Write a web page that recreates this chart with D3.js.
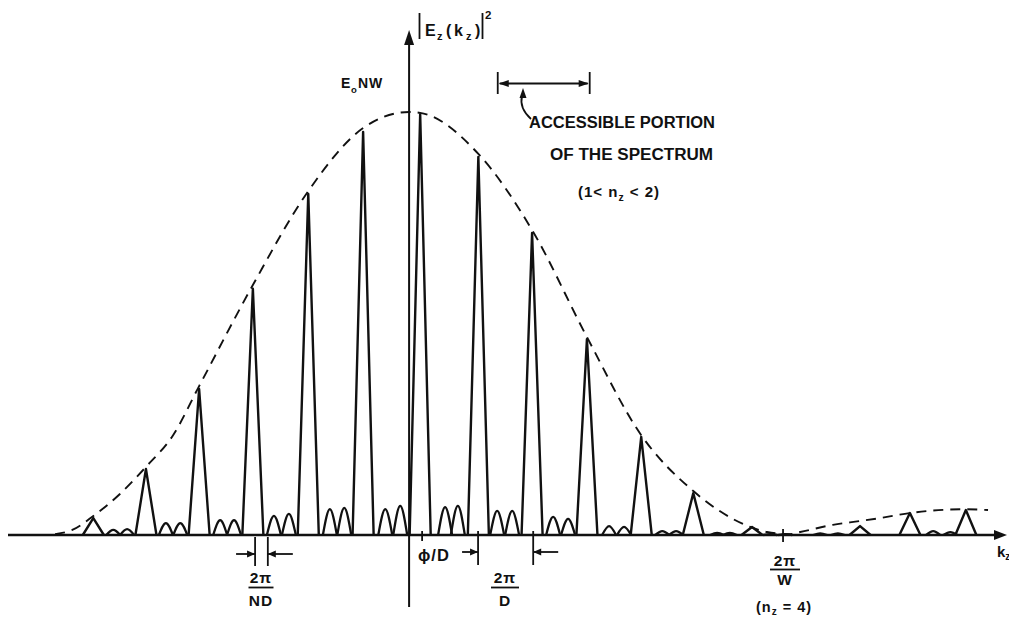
<!DOCTYPE html>
<html>
<head>
<meta charset="utf-8">
<script src="https://cdn.jsdelivr.net/npm/d3@7/dist/d3.min.js"></script>
<style>
  html, body { margin: 0; padding: 0; background: #fff; }
  svg { display: block; }
  text { font-family: "Liberation Sans", Arial, sans-serif; font-weight: bold; fill: #111; }
</style>
</head>
<body>
<svg id="chart" width="1009" height="617"></svg>
<script>
// Spectrum |Ez(kz)|^2 of a phased waveguide array (k in units of 2π/D, intensity in units of E0NW).

// Main (grating) lobes
const peakK       = [-5.70, -4.75, -3.79, -2.82, -1.82, -0.83, 0.20, 1.25, 2.22, 3.21, 4.19, 5.13, 6.19, 8.14, 9.04, 10.05];
const peakHeights = [0.040, 0.156, 0.345, 0.582, 0.806, 0.953, 0.995, 0.894, 0.714, 0.463, 0.232, 0.099, 0.019, 0.021, 0.052, 0.059];

// Minor side lobes between the main lobes
const sideK       = [-5.34, -5.09, -4.39, -4.13, -3.41, -3.16, -2.44, -2.17, -1.43, -1.17, -0.43, -0.16,
                     0.65, 0.88, 1.59, 1.86, 2.60, 2.87, 3.61, 3.88, 4.57, 4.82, 5.56, 5.79,
                     6.52, 6.79, 7.42, 7.74, 9.46, 9.77];
const sideHeights = [0.012, 0.014, 0.028, 0.028, 0.035, 0.035, 0.045, 0.050, 0.061, 0.064, 0.061, 0.069,
                     0.066, 0.069, 0.057, 0.057, 0.043, 0.038, 0.021, 0.019, 0.009, 0.009, 0.005, 0.005,
                     0.002, 0.002, 0.004, 0.004, 0.009, 0.007];

// Single-element pattern (dashed envelope)
const envK    = [-6.39, -6.08, -5.70, -5.22, -4.75, -4.26, -3.79, -2.82, -1.82, -0.83, 0.00, 0.20, 1.25, 2.22,
                 3.21, 4.19, 5.13, 6.16, 6.46, 6.88, 7.06, 7.65, 8.14, 8.50, 9.04, 10.05, 10.45];
const envelope = [0.002, 0.012, 0.045, 0.097, 0.161, 0.236, 0.352, 0.591, 0.813, 0.962, 1.000, 0.998, 0.901, 0.721,
                  0.468, 0.236, 0.104, 0.019, 0.007, 0.002, 0.007, 0.024, 0.033, 0.040, 0.052, 0.061, 0.059];

// Reference marks on the k axis
const ndMarks  = [-2.78, -2.55];   // 2π/ND
const phiMark  = 0.235;            // φ/D
const dMarks   = [1.245, 2.24];    // 2π/D
const wMark    = 6.75;             // 2π/W (nz = 4)
const accessibleRange = [1.60, 3.26]; // 1 < nz < 2

const svg = d3.select("#chart");
const x = d3.scaleLinear().domain([-7.24, 10.76]).range([8, 1005.2]);
const y = d3.scaleLinear().domain([0, 1]).range([535, 112]);
const ink = "#111";

function arrowHead(tipX, tipY, dir, len = 9, half = 4) {
  // dir: "up" | "right" | "left"
  let pts;
  if (dir === "up") pts = [[tipX, tipY], [tipX - half, tipY + len], [tipX + half, tipY + len]];
  else if (dir === "right") pts = [[tipX, tipY], [tipX - len, tipY - half], [tipX - len, tipY + half]];
  else pts = [[tipX, tipY], [tipX + len, tipY - half], [tipX + len, tipY + half]];
  svg.append("path").attr("d", d3.line()(pts) + "Z").attr("fill", ink);
}

// k axis (baseline)
const axis = d3.axisBottom(x).tickValues([]).tickSizeOuter(0);
const gAxis = svg.append("g").attr("transform", `translate(0,${y(0)})`).call(axis);
gAxis.select(".domain").attr("stroke", ink).attr("stroke-width", 2.6)
  .attr("d", `M${x.range()[0]},0H${x.range()[1] - 8}`);
arrowHead(1007, y(0), "right", 13, 5);

// vertical axis
svg.append("line").attr("x1", x(0)).attr("x2", x(0)).attr("y1", 607).attr("y2", 42)
  .attr("stroke", ink).attr("stroke-width", 2);
arrowHead(x(0), 30, "up", 15, 5);

// side lobes
const lobeHalfSide = 0.126;
const sideLine = d3.line().x(d => x(d[0])).y(d => y(d[1])).curve(d3.curveMonotoneX);
svg.append("g").selectAll("path").data(sideK.map((k, i) => [k, sideHeights[i]])).join("path")
  .attr("d", d => sideLine([[d[0] - lobeHalfSide, 0], [d[0], d[1]], [d[0] + lobeHalfSide, 0]]))
  .attr("fill", "none").attr("stroke", ink).attr("stroke-width", 2.3).attr("stroke-linejoin", "round");

// main lobes
const lobeHalfMain = 0.19;
const mainLine = d3.line().x(d => x(d[0])).y(d => y(d[1]));
svg.append("g").selectAll("path").data(peakK.map((k, i) => [k, peakHeights[i]])).join("path")
  .attr("d", d => mainLine([[d[0] - lobeHalfMain, 0], [d[0], d[1]], [d[0] + lobeHalfMain, 0]]))
  .attr("fill", "none").attr("stroke", ink).attr("stroke-width", 2.4).attr("stroke-linejoin", "round");

// envelope
const envLine = d3.line().x(d => x(d[0])).y(d => y(d[1])).curve(d3.curveMonotoneX);
svg.append("path").attr("d", envLine(envK.map((k, i) => [k, envelope[i]])))
  .attr("fill", "none").attr("stroke", ink).attr("stroke-width", 1.9).attr("stroke-dasharray", "10,7");

// tick marks on the axis
function vline(xp, y1, y2, w = 1.8) {
  svg.append("line").attr("x1", xp).attr("x2", xp).attr("y1", y1).attr("y2", y2)
    .attr("stroke", ink).attr("stroke-width", w);
}
ndMarks.forEach(k => vline(x(k), 537, 566));
dMarks.forEach(k => vline(x(k), 531, 565));
vline(x(phiMark), 531, 541);
vline(x(wMark), 529, 542);

// spacing arrows
function hArrow(x1, x2, yy) {
  svg.append("line").attr("x1", x1).attr("x2", x2).attr("y1", yy).attr("y2", yy)
    .attr("stroke", ink).attr("stroke-width", 1.8);
  arrowHead(x2, yy, x2 > x1 ? "right" : "left", 8, 3.5);
}
hArrow(x(ndMarks[0]) - 19, x(ndMarks[0]), 554);
hArrow(x(ndMarks[1]) + 25, x(ndMarks[1]), 554);
hArrow(x(dMarks[0]) - 16, x(dMarks[0]), 552);
hArrow(x(dMarks[1]) + 25, x(dMarks[1]), 552);

// fraction labels
function fraction(cx, num, den, yNum, yBar, yDen, barW) {
  svg.append("text").attr("x", cx).attr("y", yNum).attr("text-anchor", "middle")
    .attr("font-size", 15.5).attr("letter-spacing", 1).text(num);
  svg.append("line").attr("x1", cx - barW / 2).attr("x2", cx + barW / 2).attr("y1", yBar).attr("y2", yBar)
    .attr("stroke", ink).attr("stroke-width", 1.8);
  svg.append("text").attr("x", cx).attr("y", yDen).attr("text-anchor", "middle")
    .attr("font-size", 15.5).attr("letter-spacing", 1).text(den);
}
fraction(261, "2π", "ND", 583, 587.5, 606, 25);
fraction(505, "2π", "D", 583, 587.5, 606, 28);
fraction(785, "2π", "W", 566, 569.5, 585, 30);

svg.append("text").attr("x", 418).attr("y", 561).attr("font-size", 16.5).attr("letter-spacing", 1).text("ϕ/D");

const nz4 = svg.append("text").attr("x", 784).attr("y", 612).attr("text-anchor", "middle")
  .attr("font-size", 14.5).attr("letter-spacing", 1);
nz4.append("tspan").text("(n");
nz4.append("tspan").attr("font-size", 10).attr("dy", 3).text("z");
nz4.append("tspan").attr("dy", -3).text(" = 4)");

const kz = svg.append("text").attr("x", 997).attr("y", 557).attr("font-size", 15);
kz.append("tspan").text("k");
kz.append("tspan").attr("font-size", 10).attr("dy", 3).text("z");

// vertical axis title |Ez(kz)|^2
vline(419.5, 13, 39, 1.8);
vline(482.5, 13, 39, 1.8);
const ttl = svg.append("text").attr("y", 36).attr("font-size", 16);
ttl.append("tspan").attr("x", 425).text("E");
ttl.append("tspan").attr("x", 437).attr("font-size", 11).attr("dy", 4).text("z");
ttl.append("tspan").attr("x", 446).attr("dy", -4).text("(");
ttl.append("tspan").attr("x", 454).text("k");
ttl.append("tspan").attr("x", 466).attr("font-size", 11).attr("dy", 4).text("z");
ttl.append("tspan").attr("x", 475).attr("dy", -4).text(")");
svg.append("text").attr("x", 485).attr("y", 19).attr("font-size", 11.5).text("2");

// peak level label
const e0 = svg.append("text").attr("y", 88).attr("font-size", 14);
e0.append("tspan").attr("x", 341).text("E");
e0.append("tspan").attr("x", 351).attr("font-size", 9.5).attr("dy", 5).text("o");
e0.append("tspan").attr("x", 358).attr("dy", -5).attr("letter-spacing", 1).text("NW");

// accessible portion of the spectrum
const ax1 = x(accessibleRange[0]), ax2 = x(accessibleRange[1]), ay = 83.5;
vline(ax1, 72, 94, 1.8);
vline(ax2, 72, 94, 1.8);
svg.append("line").attr("x1", ax1 + 2).attr("x2", ax2 - 2).attr("y1", ay).attr("y2", ay)
  .attr("stroke", ink).attr("stroke-width", 1.8);
arrowHead(ax1 + 1, ay, "left", 10, 3.5);
arrowHead(ax2 - 1, ay, "right", 10, 3.5);
svg.append("path").attr("d", "M531,119 Q519,108 522,96").attr("fill", "none")
  .attr("stroke", ink).attr("stroke-width", 1.8);
arrowHead(523, 88, "up", 10, 3.5);

svg.append("text").attr("x", 529).attr("y", 128).attr("font-size", 16)
  .attr("textLength", 186).attr("lengthAdjust", "spacingAndGlyphs").text("ACCESSIBLE  PORTION");
svg.append("text").attr("x", 550).attr("y", 160).attr("font-size", 16)
  .attr("textLength", 163).attr("lengthAdjust", "spacingAndGlyphs").text("OF  THE  SPECTRUM");
const rng = svg.append("text").attr("x", 578).attr("y", 197).attr("font-size", 15).attr("letter-spacing", 1);
rng.append("tspan").text("(1< n");
rng.append("tspan").attr("font-size", 10.5).attr("dy", 4).text("z");
rng.append("tspan").attr("dy", -4).text(" < 2)");
</script>
</body>
</html>
